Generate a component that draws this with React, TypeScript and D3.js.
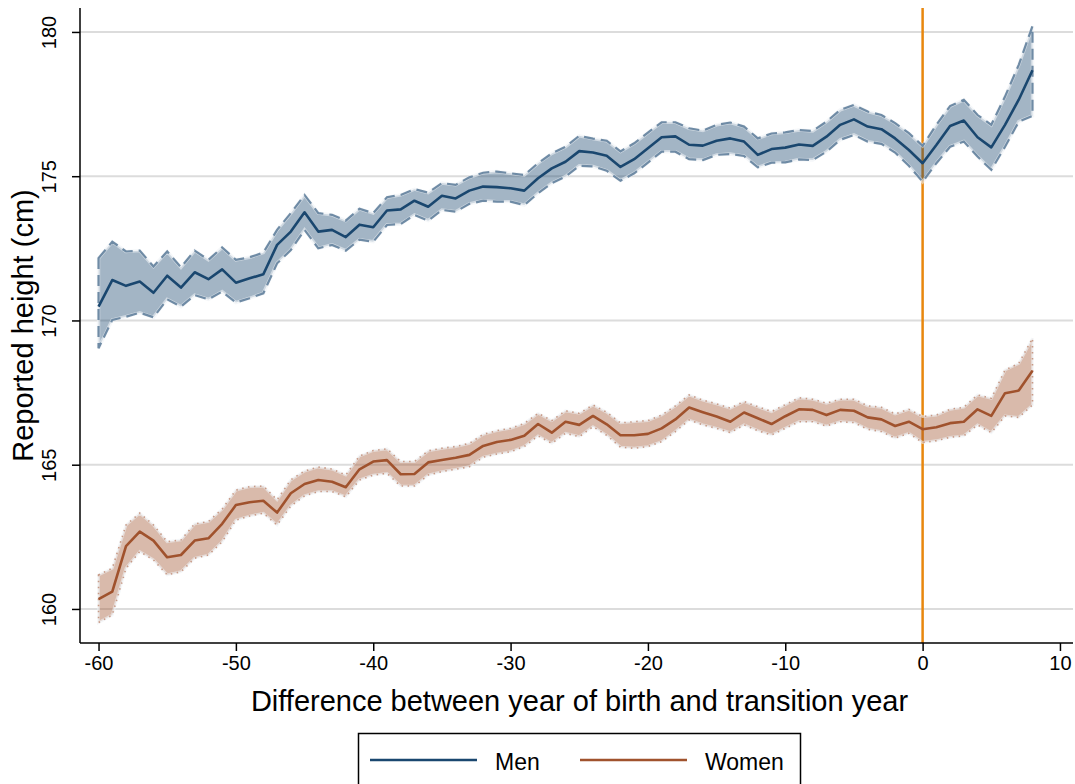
import { useRef, useEffect } from 'react';
import * as d3 from 'd3';

// difference between year of birth and transition year
const years = d3.range(-60, 9);

const menMean = [
    170.48, 171.40, 171.20, 171.35, 170.96, 171.55, 171.14, 171.67, 171.43, 171.77,
    171.31, 171.46, 171.60, 172.62, 173.08, 173.75, 173.08, 173.14, 172.89, 173.32,
    173.23, 173.81, 173.85, 174.15, 173.94, 174.32, 174.23, 174.50, 174.64, 174.62,
    174.58, 174.50, 174.93, 175.27, 175.50, 175.87, 175.82, 175.71, 175.32, 175.59,
    175.97, 176.35, 176.38, 176.09, 176.06, 176.23, 176.31, 176.20, 175.74, 175.94,
    175.99, 176.10, 176.05, 176.37, 176.78, 176.97, 176.72, 176.63, 176.31, 175.91,
    175.45, 176.08, 176.74, 176.93, 176.35, 176.00, 176.78, 177.65, 178.67
];

const menUpper = [
    172.16, 172.73, 172.39, 172.42, 171.87, 172.39, 171.84, 172.42, 172.10, 172.53,
    172.10, 172.19, 172.35, 173.14, 173.72, 174.35, 173.72, 173.66, 173.46, 173.87,
    173.72, 174.27, 174.35, 174.55, 174.43, 174.76, 174.70, 174.96, 175.12, 175.16,
    175.10, 175.04, 175.45, 175.79, 176.02, 176.40, 176.30, 176.23, 175.86, 176.14,
    176.51, 176.87, 176.87, 176.66, 176.58, 176.78, 176.86, 176.72, 176.31, 176.48,
    176.52, 176.60, 176.57, 176.89, 177.30, 177.47, 177.24, 177.12, 176.84, 176.49,
    176.05, 176.78, 177.43, 177.65, 177.12, 176.78, 177.76, 178.86, 180.20
];

const menLower = [
    169.04, 170.02, 170.13, 170.27, 170.11, 170.73, 170.48, 170.88, 170.73, 171.00,
    170.62, 170.77, 170.94, 171.98, 172.44, 173.14, 172.50, 172.62, 172.42, 172.80,
    172.73, 173.31, 173.34, 173.66, 173.46, 173.83, 173.77, 174.04, 174.15, 174.12,
    174.12, 174.00, 174.41, 174.76, 174.99, 175.36, 175.34, 175.19, 174.84, 175.10,
    175.47, 175.85, 175.85, 175.59, 175.56, 175.74, 175.77, 175.70, 175.31, 175.47,
    175.48, 175.58, 175.56, 175.85, 176.26, 176.43, 176.20, 176.12, 175.82, 175.36,
    174.81, 175.45, 176.02, 176.20, 175.68, 175.22, 176.02, 176.89, 177.09
];

const womenMean = [
    160.34, 160.60, 162.18, 162.68, 162.37, 161.79, 161.87, 162.37, 162.45, 162.95,
    163.60, 163.70, 163.75, 163.34, 164.01, 164.33, 164.47, 164.41, 164.22, 164.84,
    165.11, 165.16, 164.67, 164.68, 165.08, 165.16, 165.24, 165.34, 165.65, 165.79,
    165.86, 166.00, 166.41, 166.11, 166.49, 166.38, 166.69, 166.40, 166.02, 166.02,
    166.07, 166.26, 166.57, 166.98, 166.82, 166.67, 166.49, 166.81, 166.61, 166.41,
    166.68, 166.92, 166.90, 166.72, 166.90, 166.87, 166.64, 166.57, 166.34, 166.49,
    166.23, 166.30, 166.44, 166.49, 166.92, 166.69, 167.48, 167.57, 168.26
];

const womenUpper = [
    161.18, 161.41, 162.91, 163.32, 162.91, 162.33, 162.39, 162.95, 163.03, 163.46,
    164.12, 164.24, 164.26, 163.78, 164.48, 164.78, 164.92, 164.85, 164.64, 165.30,
    165.49, 165.55, 165.11, 165.11, 165.48, 165.57, 165.63, 165.74, 166.05, 166.18,
    166.26, 166.43, 166.78, 166.53, 166.87, 166.78, 167.07, 166.82, 166.45, 166.49,
    166.53, 166.72, 167.04, 167.42, 167.24, 167.11, 166.96, 167.19, 167.01, 166.84,
    167.08, 167.32, 167.27, 167.13, 167.27, 167.27, 167.04, 166.99, 166.76, 166.92,
    166.67, 166.72, 166.92, 166.99, 167.42, 167.30, 168.28, 168.51, 169.38
];

const womenLower = [
    159.53, 159.79, 161.41, 161.99, 161.70, 161.18, 161.29, 161.76, 161.87, 162.33,
    163.08, 163.22, 163.32, 162.91, 163.57, 163.92, 164.07, 164.07, 163.89, 164.47,
    164.64, 164.70, 164.26, 164.26, 164.64, 164.76, 164.84, 164.93, 165.26, 165.37,
    165.45, 165.63, 166.00, 165.74, 166.09, 165.97, 166.32, 166.02, 165.61, 165.57,
    165.63, 165.80, 166.15, 166.55, 166.38, 166.26, 166.11, 166.38, 166.18, 166.03,
    166.26, 166.49, 166.49, 166.34, 166.49, 166.46, 166.23, 166.15, 165.92, 166.09,
    165.77, 165.83, 165.95, 166.00, 166.38, 166.11, 166.69, 166.64, 167.07
];

const xTicks = [-60, -50, -40, -30, -20, -10, 0, 10];
const yTicks = [160, 165, 170, 175, 180];
const transitionYear = 0;

const legendItems = ['Men', 'Women'];

const FONT = 'Liberation Sans, Arial, Helvetica, sans-serif';

type Row = { yr: number, m: number, lo: number, hi: number };

const HeightChart = () => {
    const svgRef = useRef<SVGSVGElement | null>(null);

    useEffect(() => {
        const svgElement = svgRef.current;
        if (!svgElement) return;

        const width = 1075;
        const height = 784;
        const plot = { left: 80, right: 1073, top: 8, bottom: 643 };

        const svg = d3.select(svgElement)
            .attr('width', width)
            .attr('height', height);
        svg.selectAll('*').remove();

        const x = d3.scaleLinear()
            .domain([-61.35, 10.95])
            .range([plot.left, plot.right]);

        const y = d3.scaleLinear()
            .domain([158.82, 180.83])
            .range([plot.bottom, plot.top]);

        // grid lines
        svg.append('g')
            .selectAll('line')
            .data(yTicks)
            .join('line')
            .attr('x1', plot.left)
            .attr('x2', plot.right)
            .attr('y1', d => y(d))
            .attr('y2', d => y(d))
            .attr('stroke', '#dcdcdc')
            .attr('stroke-width', 2);

        // transition year marker
        svg.append('line')
            .attr('x1', x(transitionYear))
            .attr('x2', x(transitionYear))
            .attr('y1', plot.top)
            .attr('y2', plot.bottom)
            .attr('stroke', '#E8870E')
            .attr('stroke-width', 2.5);

        const series = [
            { mean: menMean, lo: menLower, hi: menUpper, color: '#1A476F', edge: '#6f8ba5', dash: '11 6', edgeWidth: 2.2 },
            { mean: womenMean, lo: womenLower, hi: womenUpper, color: '#A0522D', edge: '#c89a86', dash: '1.5 4.5', edgeWidth: 1.6 },
        ];

        series.forEach(s => {
            const rows: Row[] = years.map((yr, i) => ({ yr, m: s.mean[i], lo: s.lo[i], hi: s.hi[i] }));

            const area = d3.area<Row>()
                .x(d => x(d.yr))
                .y0(d => y(d.lo))
                .y1(d => y(d.hi));

            svg.append('path')
                .datum(rows)
                .attr('fill', s.color)
                .attr('fill-opacity', 0.4)
                .attr('d', area);

            // outline: closed polygon around the band
            const outline = [
                ...rows.map(d => [x(d.yr), y(d.hi)] as [number, number]),
                ...rows.slice().reverse().map(d => [x(d.yr), y(d.lo)] as [number, number]),
            ];
            const outlinePath = d3.line()(outline) + 'Z';
            svg.append('path')
                .attr('d', outlinePath)
                .attr('fill', 'none')
                .attr('stroke', '#eef2f5')
                .attr('stroke-width', s.edgeWidth + 1.2)
                .attr('stroke-opacity', 0.6);
            svg.append('path')
                .attr('d', outlinePath)
                .attr('fill', 'none')
                .attr('stroke', s.edge)
                .attr('stroke-width', s.edgeWidth)
                .attr('stroke-dasharray', s.dash);

            const meanLine = d3.line<Row>()
                .x(d => x(d.yr))
                .y(d => y(d.m));

            svg.append('path')
                .datum(rows)
                .attr('fill', 'none')
                .attr('stroke', s.color)
                .attr('stroke-width', 2.6)
                .attr('stroke-linejoin', 'round')
                .attr('d', meanLine);
        });

        // axes
        const xAxis = svg.append('g')
            .attr('transform', `translate(0, ${plot.bottom})`)
            .call(d3.axisBottom(x)
                .tickValues(xTicks)
                .tickFormat(d => String(d))
                .tickSize(8)
                .tickPadding(5)
                .tickSizeOuter(0));
        xAxis.select('.domain').attr('stroke', '#000').attr('stroke-width', 1.5)
            .attr('d', `M${plot.left},0H${plot.right}`);
        xAxis.selectAll('.tick line').attr('stroke', '#000').attr('stroke-width', 1.5);
        xAxis.selectAll('.tick text')
            .attr('fill', '#000')
            .style('font-family', FONT)
            .style('font-size', '20px');

        const yAxis = svg.append('g')
            .attr('transform', `translate(${plot.left}, 0)`)
            .call(d3.axisLeft(y)
                .tickValues(yTicks)
                .tickFormat(d => String(d))
                .tickSize(8)
                .tickSizeOuter(0));
        yAxis.select('.domain').attr('stroke', '#000').attr('stroke-width', 1.5)
            .attr('d', `M0,${plot.top}V${plot.bottom}`);
        yAxis.selectAll('.tick line').attr('stroke', '#000').attr('stroke-width', 1.5);
        yAxis.selectAll('.tick text')
            .attr('fill', '#000')
            .attr('x', null)
            .attr('dy', null)
            .attr('transform', 'translate(-24, 0) rotate(-90)')
            .attr('text-anchor', 'middle')
            .style('font-family', FONT)
            .style('font-size', '20px');

        // axis titles
        svg.append('text')
            .attr('transform', `translate(33, ${(plot.top + plot.bottom) / 2}) rotate(-90)`)
            .attr('text-anchor', 'middle')
            .style('font-family', FONT)
            .style('font-size', '29px')
            .text('Reported height (cm)');

        svg.append('text')
            .attr('x', (plot.left + plot.right) / 2 + 3)
            .attr('y', 711)
            .attr('text-anchor', 'middle')
            .style('font-family', FONT)
            .style('font-size', '29px')
            .text('Difference between year of birth and transition year');

        // legend
        const legend = svg.append('g');
        legend.append('rect')
            .attr('x', 358.5)
            .attr('y', 733.5)
            .attr('width', 442)
            .attr('height', 80)
            .attr('fill', '#fff')
            .attr('stroke', '#000')
            .attr('stroke-width', 1.5);

        legendItems.forEach((name, i) => {
            const x0 = 370 + i * 210;
            legend.append('line')
                .attr('x1', x0)
                .attr('x2', x0 + 107)
                .attr('y1', 760)
                .attr('y2', 760)
                .attr('stroke', series[i].color)
                .attr('stroke-width', 2.6);
            legend.append('text')
                .attr('x', x0 + 125)
                .attr('y', 770)
                .style('font-family', FONT)
                .style('font-size', '23px')
                .text(name);
        });
    }, []);

    return (
        <svg
            ref={svgRef}
            width={1075}
            height={784}
            style={{ position: 'absolute', left: 0, top: 0, background: '#fff' }}
        ></svg>
    );
};

export default function App() {
    return <HeightChart />;
}
